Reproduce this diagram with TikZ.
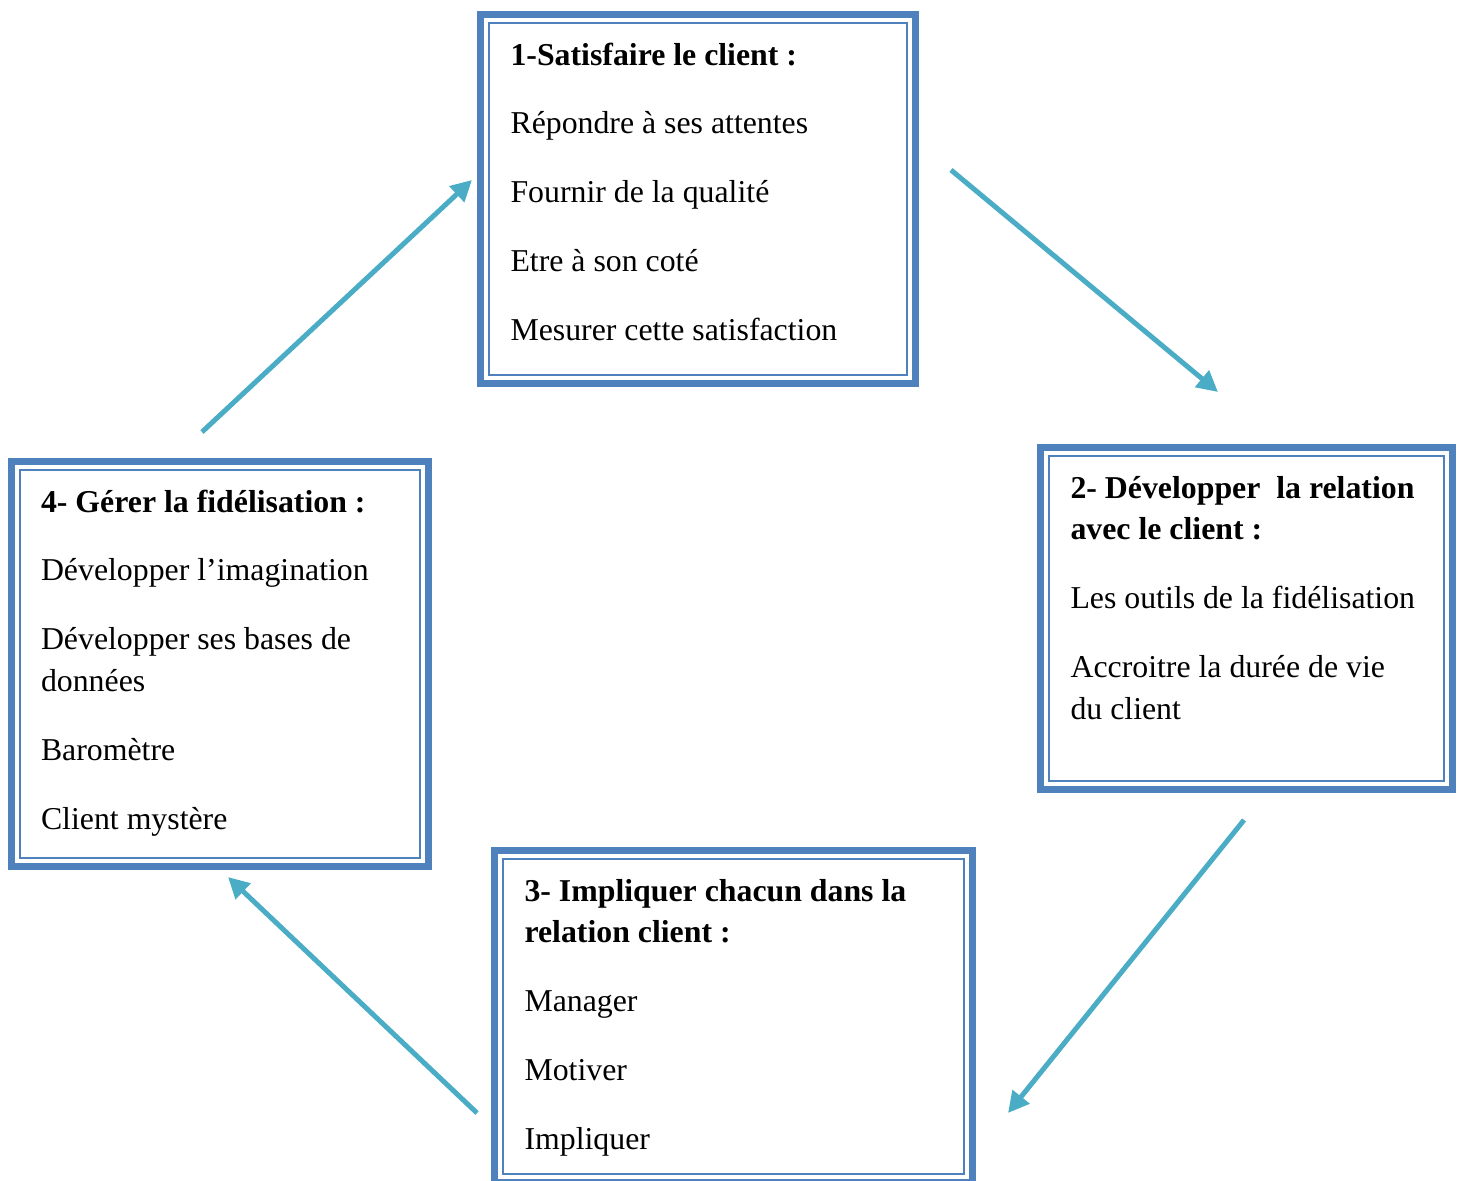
\documentclass[tikz,border=0pt]{standalone}
\usepackage{fontspec}
\setmainfont{Liberation Serif}
\usepackage{xcolor}
\usetikzlibrary{arrows.meta,calc}

\definecolor{bleucadre}{HTML}{4F81BD}
\definecolor{bleufleche}{HTML}{4BACC6}
\newlength\pix
\setlength\pix{0.01326cm}

\begin{document}
\begin{tikzpicture}[x=\pix, y=-\pix,
    cadre/.style={draw=bleucadre, line width=7\pix, outer sep=0pt},
    filet/.style={draw=bleucadre, line width=2\pix, outer sep=0pt},
    texte/.style={anchor=base west, inner sep=0pt, text width=#1, align=flush left, font=\fontsize{12}{15.8}\selectfont},
    fleche/.style={draw=bleufleche, line width=5\pix, -{Triangle[length=7.9pt,width=7.9pt]}}
]
    \useasboundingbox (0,0) rectangle (1457,1180);

    % 1 - satisfaire
    \node[cadre, minimum width=435\pix, minimum height=369\pix] (satisf) at (698,199) {};
    \node[filet, minimum width=418\pix, minimum height=352\pix] (satisf-in) at (satisf.center) {};
    \node[texte=390\pix] (satisf-txt) at ($(satisf.north west)+(29.5,50.5)$) {%
        \textbf{1-Satisfaire le client :}\\[10.2pt]
        Répondre à ses attentes\\[10.2pt]
        Fournir de la qualité\\[10.2pt]
        Etre à son coté\\[10.2pt]
        Mesurer cette satisfaction};

    % 2 - relation
    \node[cadre, minimum width=412\pix, minimum height=342\pix] (relation) at (1246.5,618.5) {};
    \node[filet, minimum width=395\pix, minimum height=325\pix] (relation-in) at (relation.center) {};
    \node[texte=370\pix] (relation-txt) at ($(relation.north west)+(29.5,50.5)$) {%
        \textbf{2- Développer\ \ la relation}\\
        \textbf{avec le client :}\\[10.2pt]
        Les outils de la fidélisation\\[10.2pt]
        Accroitre la durée de vie\\
        du client};

    % 3 - impliquer
    \node[cadre, minimum width=478\pix, minimum height=332\pix] (impliq) at (733.5,1016.5) {};
    \node[filet, minimum width=461\pix, minimum height=315\pix] (impliq-in) at (impliq.center) {};
    \node[texte=420\pix] (impliq-txt) at ($(impliq.north west)+(29.5,50.5)$) {%
        \textbf{3- Impliquer chacun dans la}\\
        \textbf{relation client :}\\[10.2pt]
        Manager\\[10.2pt]
        Motiver\\[10.2pt]
        Impliquer};

    % 4 - fidelisation
    \node[cadre, minimum width=417\pix, minimum height=405\pix] (fidel) at (220,664) {};
    \node[filet, minimum width=400\pix, minimum height=388\pix] (fidel-in) at (fidel.center) {};
    \node[texte=370\pix] (fidel-txt) at ($(fidel.north west)+(29,50.5)$) {%
        \textbf{4- Gérer la fidélisation :}\\[10.2pt]
        Développer l’imagination\\[10.2pt]
        Développer ses bases de\\
        données\\[10.2pt]
        Baromètre\\[10.2pt]
        Client mystère};

    % Cycle
    \coordinate (f1a) at (951,170);  \coordinate (f1b) at (1218,392);
    \coordinate (f2a) at (1244,820); \coordinate (f2b) at (1008,1113);
    \coordinate (f3a) at (477,1113); \coordinate (f3b) at (228,877);
    \coordinate (f4a) at (202,432);  \coordinate (f4b) at (472,180);

    \draw[fleche] (f1a) -- (f1b);
    \draw[fleche] (f2a) -- (f2b);
    \draw[fleche] (f3a) -- (f3b);
    \draw[fleche] (f4a) -- (f4b);
\end{tikzpicture}
\end{document}
